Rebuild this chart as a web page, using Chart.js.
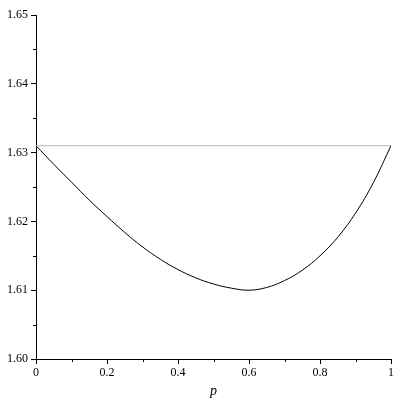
<!DOCTYPE html>
<html>
<head>
<meta charset="utf-8">
<script src="https://cdn.jsdelivr.net/npm/chart.js@4/dist/chart.umd.min.js"></script>
<style>
  html, body { margin: 0; padding: 0; background: #fff; }
  #wrap { width: 400px; height: 400px; }
</style>
</head>
<body>
<div id="wrap"><canvas id="c" width="400" height="400"></canvas></div>
<script>
const pValues = [0, 0.05, 0.1, 0.15, 0.2, 0.25, 0.3, 0.35, 0.4, 0.45, 0.5, 0.55, 0.6, 0.65, 0.7, 0.75, 0.8, 0.85, 0.9, 0.95, 1];
const curveValues = [1.6310, 1.6283, 1.6257, 1.6231, 1.6207, 1.6184, 1.6163, 1.6145, 1.6130, 1.6118, 1.6109, 1.6103, 1.6100, 1.6104, 1.6114, 1.6129, 1.6150, 1.6177, 1.6212, 1.6256, 1.6310];
const refP = [0, 1];
const refValues = [1.631, 1.631];
const xTickStep = 0.2;
const xMinorStep = 0.1;
const yTickStep = 0.01;
const yMinorStep = 0.005;
const yMin = 1.60, yMax = 1.65;
const xTitle = 'p';

const tickFont = { family: 'Liberation Serif', size: 12 };

const minorTicks = {
  id: 'minorTicks',
  afterDraw(chart) {
    const ctx = chart.ctx;
    const xs = chart.scales.x, ys = chart.scales.y;
    ctx.save();
    ctx.strokeStyle = '#000';
    ctx.lineWidth = 1;
    ctx.beginPath();
    for (let i = 0; i * xMinorStep <= 1 + 1e-9; i++) {
      if (i % 2 === 0) continue;
      const px = Math.round(xs.getPixelForValue(i * xMinorStep)) + 0.5;
      ctx.moveTo(px, xs.top);
      ctx.lineTo(px, xs.top + 3);
    }
    for (let i = 0; yMin + i * yMinorStep <= yMax + 1e-9; i++) {
      if (i % 2 === 0) continue;
      const py = Math.round(ys.getPixelForValue(yMin + i * yMinorStep)) + 0.5;
      ctx.moveTo(ys.right, py);
      ctx.lineTo(ys.right - 3, py);
    }
    ctx.stroke();
    ctx.restore();
  }
};

new Chart(document.getElementById('c'), {
  type: 'line',
  data: {
    datasets: [
      {
        data: pValues.map((p, i) => ({ x: p, y: curveValues[i] })),
        borderColor: '#000',
        borderWidth: 1,
        pointRadius: 0,
        tension: 0.4,
        fill: false
      },
      {
        data: refP.map((p, i) => ({ x: p, y: refValues[i] })),
        borderColor: '#b4b4b4',
        borderWidth: 1,
        pointRadius: 0,
        fill: false
      }
    ]
  },
  plugins: [minorTicks],
  options: {
    responsive: false,
    animation: false,
    layout: { padding: { top: 15, right: 9, left: 0, bottom: 0 } },
    plugins: { legend: { display: false }, tooltip: { enabled: false } },
    scales: {
      x: {
        type: 'linear',
        min: 0, max: 1,
        afterFit(s) { s.height = 41; },
        ticks: {
          stepSize: xTickStep,
          color: '#000',
          font: tickFont,
          padding: 2,
          maxRotation: 0,
          callback: v => String(Math.round(v * 10) / 10)
        },
        grid: { drawOnChartArea: false, drawTicks: true, tickLength: 5, color: '#000' },
        border: { display: true, color: '#000', width: 1 },
        title: {
          display: true,
          text: xTitle,
          color: '#000',
          font: { family: 'Liberation Serif', size: 14, style: 'italic' },
          padding: { top: 0, bottom: 0 }
        }
      },
      y: {
        type: 'linear',
        min: yMin, max: yMax,
        afterFit(s) { s.width = 36; },
        ticks: {
          stepSize: yTickStep,
          color: '#000',
          font: tickFont,
          padding: 3,
          callback: v => v.toFixed(2)
        },
        grid: { drawOnChartArea: false, drawTicks: true, tickLength: 5, color: '#000' },
        border: { display: true, color: '#000', width: 1 }
      }
    }
  }
});
</script>
</body>
</html>
